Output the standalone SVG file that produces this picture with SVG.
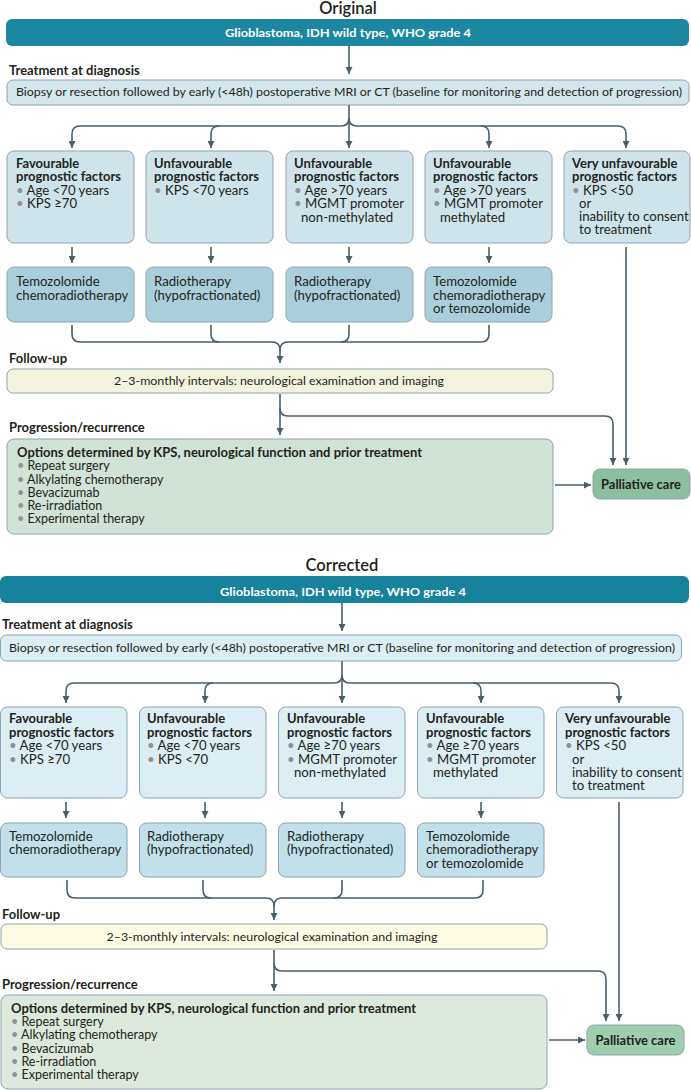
<svg xmlns="http://www.w3.org/2000/svg" width="691" height="1090" viewBox="0 0 691 1090">
<style>
text{font-family:Lato,"Noto Sans","Liberation Sans",sans-serif;fill:#231f20}
.h{font-size:16.5px;font-weight:600;text-anchor:middle}
.lb{font-size:13px;font-weight:bold}
.bar{font-size:12px;font-weight:bold;fill:#ffffff;text-anchor:middle}
.ctr{font-size:12px;text-anchor:middle}
.bt{font-size:13px;font-weight:bold}
.bx{font-size:13.2px}
.op{font-size:12.5px}
.opt{font-size:12.5px;font-weight:bold}
.pc{font-size:12.5px;font-weight:bold;text-anchor:middle}
.d{fill:#8d9296}
.s{stroke:#8ea4ac;stroke-width:1}
.c{fill:none;stroke:#4b5f6b;stroke-width:1.6}
.a{marker-end:url(#ah)}
</style>
<defs>
<marker id="ah" markerUnits="userSpaceOnUse" markerWidth="8" markerHeight="7" refX="7" refY="3.5" orient="auto">
<path d="M0,0 L7,3.5 L0,7 z" fill="#4b5f6b"/>
</marker>
</defs>

<!-- ===================== ORIGINAL ===================== -->
<text class="h" x="348" y="14">Original</text>

<g id="o-top"><rect x="6" y="19" width="683" height="27" rx="6" fill="#1c87a0"/>
<text class="bar" x="348" y="37" textLength="246" lengthAdjust="spacingAndGlyphs">Glioblastoma, IDH wild type, WHO grade 4</text></g>

<text class="lb" x="9" y="75">Treatment at diagnosis</text>
<g id="o-biopsy"><rect class="s" x="7" y="80" width="682" height="25" rx="6" fill="#d2e6ec"/>
<text class="ctr" x="349" y="96" textLength="666" lengthAdjust="spacingAndGlyphs">Biopsy or resection followed by early (&lt;48h)  postoperative MRI or CT (baseline for monitoring and detection of progression)</text></g>

<g id="o-f1"><rect class="s" x="7" y="151" width="127" height="92" rx="7" fill="#cfe4ea"/>
<text class="bt"><tspan x="16" y="167.5">Favourable</tspan><tspan x="16" y="181">prognostic factors</tspan></text>
<text class="bx"><tspan x="16" y="194.5"><tspan class="d">•</tspan> Age &lt;70 years</tspan><tspan x="16" y="208"><tspan class="d">•</tspan> KPS ≥70</tspan></text></g>

<g id="o-f2"><rect class="s" x="146" y="151" width="127" height="92" rx="7" fill="#cfe4ea"/>
<text class="bt"><tspan x="154" y="167.5">Unfavourable</tspan><tspan x="154" y="181">prognostic factors</tspan></text>
<text class="bx"><tspan x="154" y="194.5"><tspan class="d">•</tspan> KPS &lt;70 years</tspan></text></g>

<g id="o-f3"><rect class="s" x="286" y="151" width="127" height="92" rx="7" fill="#cfe4ea"/>
<text class="bt"><tspan x="294" y="167.5">Unfavourable</tspan><tspan x="294" y="181">prognostic factors</tspan></text>
<text class="bx"><tspan x="294" y="194.5"><tspan class="d">•</tspan> Age &gt;70 years</tspan><tspan x="294" y="208"><tspan class="d">•</tspan> MGMT promoter</tspan><tspan x="301" y="221.5">non-methylated</tspan></text></g>

<g id="o-f4"><rect class="s" x="425" y="151" width="127" height="92" rx="7" fill="#cfe4ea"/>
<text class="bt"><tspan x="433" y="167.5">Unfavourable</tspan><tspan x="433" y="181">prognostic factors</tspan></text>
<text class="bx"><tspan x="433" y="194.5"><tspan class="d">•</tspan> Age &gt;70 years</tspan><tspan x="433" y="208"><tspan class="d">•</tspan> MGMT promoter</tspan><tspan x="440" y="221.5">methylated</tspan></text></g>

<g id="o-f5"><rect class="s" x="564" y="151" width="126" height="92" rx="7" fill="#cfe4ea"/>
<text class="bt"><tspan x="572" y="167.5">Very unfavourable</tspan><tspan x="572" y="181">prognostic factors</tspan></text>
<text class="bx"><tspan x="572" y="194.5"><tspan class="d">•</tspan> KPS &lt;50</tspan><tspan x="579" y="208">or</tspan><tspan x="579" y="221">inability to consent</tspan><tspan x="579" y="234">to treatment</tspan></text></g>

<g id="o-t1"><rect class="s" x="7" y="267" width="127" height="55" rx="7" fill="#a9d0da"/>
<text class="bx"><tspan x="16" y="286">Temozolomide</tspan><tspan x="16" y="299.5">chemoradiotherapy</tspan></text></g>
<g id="o-t2"><rect class="s" x="146" y="267" width="127" height="55" rx="7" fill="#a9d0da"/>
<text class="bx"><tspan x="154" y="286">Radiotherapy</tspan><tspan x="154" y="299.5">(hypofractionated)</tspan></text></g>
<g id="o-t3"><rect class="s" x="286" y="267" width="127" height="55" rx="7" fill="#a9d0da"/>
<text class="bx"><tspan x="294" y="286">Radiotherapy</tspan><tspan x="294" y="299.5">(hypofractionated)</tspan></text></g>
<g id="o-t4"><rect class="s" x="425" y="267" width="127" height="55" rx="7" fill="#a9d0da"/>
<text class="bx"><tspan x="433" y="286">Temozolomide</tspan><tspan x="433" y="299.5">chemoradiotherapy</tspan><tspan x="433" y="313">or temozolomide</tspan></text></g>

<text class="lb" x="9" y="363">Follow-up</text>
<g id="o-follow"><rect class="s" x="7" y="369" width="546" height="24" rx="6" fill="#f4f4de"/>
<text class="ctr" x="279" y="385" textLength="330" lengthAdjust="spacingAndGlyphs">2–3-monthly intervals: neurological examination and imaging</text></g>

<text class="lb" x="9" y="432">Progression/recurrence</text>
<g id="o-options"><rect class="s" x="7" y="439" width="546" height="95" rx="7" fill="#d1e2d6"/>
<text class="opt" x="17" y="457" textLength="405" lengthAdjust="spacingAndGlyphs">Options determined by KPS, neurological function and prior treatment</text>
<text class="op"><tspan x="17" y="470"><tspan class="d">•</tspan> Repeat surgery</tspan><tspan x="17" y="483.5"><tspan class="d">•</tspan> Alkylating chemotherapy</tspan><tspan x="17" y="496.5"><tspan class="d">•</tspan> Bevacizumab</tspan><tspan x="17" y="510"><tspan class="d">•</tspan> Re-irradiation</tspan><tspan x="17" y="523"><tspan class="d">•</tspan> Experimental therapy</tspan></text></g>

<g id="o-palliative"><rect class="s" x="593" y="469" width="97" height="30" rx="7" fill="#8cbf9f"/>
<text class="pc" x="641" y="488.5" textLength="80" lengthAdjust="spacingAndGlyphs">Palliative care</text></g>

<g id="o-connectors">
<path class="c a" d="M349,46 V74"/>
<path class="c a" d="M349,105 V148"/>
<path class="c a" d="M349,118 Q349,126 341,126 H80 Q72,126 72,134 V148"/>
<path class="c a" d="M349,118 Q349,126 357,126 H618 Q626,126 626,134 V148"/>
<path class="c a" d="M219,126 Q211,126 211,134 V148"/>
<path class="c a" d="M481,126 Q489,126 489,134 V148"/>
<path class="c a" d="M72,247 V263"/>
<path class="c a" d="M211,247 V263"/>
<path class="c a" d="M349,247 V263"/>
<path class="c a" d="M489,247 V263"/>
<path class="c a" d="M626,247 V465"/>
<path class="c" d="M72,325 V334 Q72,342 80,342 H272 Q280,342 280,350"/>
<path class="c" d="M489,325 V334 Q489,342 481,342 H288 Q280,342 280,350"/>
<path class="c" d="M211,325 V334 Q211,342 219,342"/>
<path class="c" d="M349,325 V334 Q349,342 341,342"/>
<path class="c a" d="M280,348 V363"/>
<path class="c a" d="M280,394 V435"/>
<path class="c a" d="M280,408 Q280,416 288,416 H605 Q613,416 613,424 V465"/>
<path class="c a" d="M555,485 H591"/>
</g>

<!-- ===================== CORRECTED ===================== -->
<text class="h" x="342" y="571">Corrected</text>

<g id="c-top"><rect x="0" y="576" width="689" height="27" rx="6" fill="#17829b"/>
<text class="bar" x="343" y="595.5" textLength="246" lengthAdjust="spacingAndGlyphs">Glioblastoma, IDH wild type, WHO grade 4</text></g>

<text class="lb" x="2" y="629">Treatment at diagnosis</text>
<g id="c-biopsy"><rect class="s" x="0.5" y="635" width="681" height="26" rx="6" fill="#dcedf3"/>
<text class="ctr" x="342" y="652" textLength="666" lengthAdjust="spacingAndGlyphs">Biopsy or resection followed by early (&lt;48h)  postoperative MRI or CT (baseline for monitoring and detection of progression)</text></g>

<g id="c-f1"><rect class="s" x="0.5" y="707" width="126.5" height="91" rx="7" fill="#dcedf4"/>
<text class="bt"><tspan x="9" y="723">Favourable</tspan><tspan x="9" y="736.5">prognostic factors</tspan></text>
<text class="bx"><tspan x="9" y="750"><tspan class="d">•</tspan> Age &lt;70 years</tspan><tspan x="9" y="763.5"><tspan class="d">•</tspan> KPS ≥70</tspan></text></g>

<g id="c-f2"><rect class="s" x="139.5" y="707" width="126.5" height="91" rx="7" fill="#dcedf4"/>
<text class="bt"><tspan x="147" y="723">Unfavourable</tspan><tspan x="147" y="736.5">prognostic factors</tspan></text>
<text class="bx"><tspan x="147" y="750"><tspan class="d">•</tspan> Age &lt;70 years</tspan><tspan x="147" y="763.5"><tspan class="d">•</tspan> KPS &lt;70</tspan></text></g>

<g id="c-f3"><rect class="s" x="278.5" y="707" width="126.5" height="91" rx="7" fill="#dcedf4"/>
<text class="bt"><tspan x="287" y="723">Unfavourable</tspan><tspan x="287" y="736.5">prognostic factors</tspan></text>
<text class="bx"><tspan x="287" y="750"><tspan class="d">•</tspan> Age ≥70 years</tspan><tspan x="287" y="763.5"><tspan class="d">•</tspan> MGMT promoter</tspan><tspan x="294" y="777">non-methylated</tspan></text></g>

<g id="c-f4"><rect class="s" x="417.5" y="707" width="126.5" height="91" rx="7" fill="#dcedf4"/>
<text class="bt"><tspan x="426" y="723">Unfavourable</tspan><tspan x="426" y="736.5">prognostic factors</tspan></text>
<text class="bx"><tspan x="426" y="750"><tspan class="d">•</tspan> Age ≥70 years</tspan><tspan x="426" y="763.5"><tspan class="d">•</tspan> MGMT promoter</tspan><tspan x="433" y="777">methylated</tspan></text></g>

<g id="c-f5"><rect class="s" x="556.5" y="707" width="126.5" height="91" rx="7" fill="#dcedf4"/>
<text class="bt"><tspan x="565" y="723">Very unfavourable</tspan><tspan x="565" y="736.5">prognostic factors</tspan></text>
<text class="bx"><tspan x="565" y="750"><tspan class="d">•</tspan> KPS &lt;50</tspan><tspan x="572" y="763.5">or</tspan><tspan x="572" y="777">inability to consent</tspan><tspan x="572" y="790">to treatment</tspan></text></g>

<g id="c-t1"><rect class="s" x="0.5" y="823" width="126.5" height="54" rx="7" fill="#c2e0ea"/>
<text class="bx"><tspan x="9" y="840.5">Temozolomide</tspan><tspan x="9" y="854">chemoradiotherapy</tspan></text></g>
<g id="c-t2"><rect class="s" x="139.5" y="823" width="126.5" height="54" rx="7" fill="#c2e0ea"/>
<text class="bx"><tspan x="147" y="840.5">Radiotherapy</tspan><tspan x="147" y="854">(hypofractionated)</tspan></text></g>
<g id="c-t3"><rect class="s" x="278.5" y="823" width="126.5" height="54" rx="7" fill="#c2e0ea"/>
<text class="bx"><tspan x="287" y="840.5">Radiotherapy</tspan><tspan x="287" y="854">(hypofractionated)</tspan></text></g>
<g id="c-t4"><rect class="s" x="417.5" y="823" width="126.5" height="54" rx="7" fill="#c2e0ea"/>
<text class="bx"><tspan x="426" y="840.5">Temozolomide</tspan><tspan x="426" y="854">chemoradiotherapy</tspan><tspan x="426" y="867.5">or temozolomide</tspan></text></g>

<text class="lb" x="2" y="919">Follow-up</text>
<g id="c-follow"><rect class="s" x="1" y="924" width="546" height="25" rx="6" fill="#fdfbe6"/>
<text class="ctr" x="272" y="941" textLength="331" lengthAdjust="spacingAndGlyphs">2–3-monthly intervals: neurological examination and imaging</text></g>

<text class="lb" x="2" y="988.5">Progression/recurrence</text>
<g id="c-options"><rect class="s" x="1" y="995" width="546" height="94" rx="7" fill="#dde9dd"/>
<text class="opt" x="11" y="1012.5" textLength="405" lengthAdjust="spacingAndGlyphs">Options determined by KPS, neurological function and prior treatment</text>
<text class="op"><tspan x="11" y="1025.5"><tspan class="d">•</tspan> Repeat surgery</tspan><tspan x="11" y="1039"><tspan class="d">•</tspan> Alkylating chemotherapy</tspan><tspan x="11" y="1052.5"><tspan class="d">•</tspan> Bevacizumab</tspan><tspan x="11" y="1066"><tspan class="d">•</tspan> Re-irradiation</tspan><tspan x="11" y="1079"><tspan class="d">•</tspan> Experimental therapy</tspan></text></g>

<g id="c-palliative"><rect class="s" x="587" y="1025" width="97" height="30" rx="7" fill="#9fceae"/>
<text class="pc" x="635.5" y="1044.5" textLength="80" lengthAdjust="spacingAndGlyphs">Palliative care</text></g>

<g id="c-connectors">
<path class="c a" d="M342,603 V631"/>
<path class="c a" d="M342,661 V703"/>
<path class="c a" d="M342,675 Q342,683 334,683 H74 Q66,683 66,691 V703"/>
<path class="c a" d="M342,675 Q342,683 350,683 H611 Q619,683 619,691 V703"/>
<path class="c a" d="M213,683 Q205,683 205,691 V703"/>
<path class="c a" d="M473,683 Q481,683 481,691 V703"/>
<path class="c a" d="M66,802 V818"/>
<path class="c a" d="M205,802 V818"/>
<path class="c a" d="M342,802 V818"/>
<path class="c a" d="M481,802 V818"/>
<path class="c a" d="M619,802 V1021"/>
<path class="c" d="M67,880 V890 Q67,898 75,898 H266 Q274,898 274,906"/>
<path class="c" d="M483,880 V890 Q483,898 475,898 H282 Q274,898 274,906"/>
<path class="c" d="M203,880 V890 Q203,898 211,898"/>
<path class="c" d="M342,880 V890 Q342,898 334,898"/>
<path class="c a" d="M274,904 V920"/>
<path class="c a" d="M274,950 V991"/>
<path class="c a" d="M274,963 Q274,971 282,971 H598 Q606,971 606,979 V1021"/>
<path class="c a" d="M549,1040 H585"/>
</g>
</svg>
